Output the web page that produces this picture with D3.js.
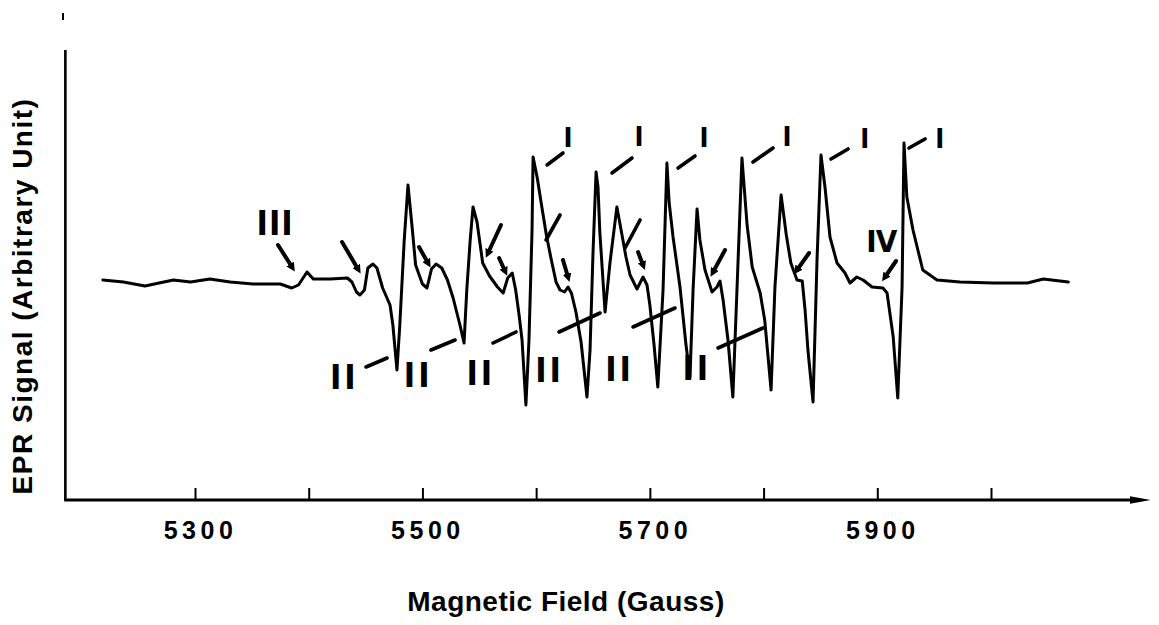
<!DOCTYPE html>
<html><head><meta charset="utf-8">
<script src="https://cdn.jsdelivr.net/npm/d3@7"></script>
<style>body{margin:0;background:#fff} svg{display:block}</style>
</head><body><svg id="c" width="1159" height="625"></svg>
<script>
// Magnetic field (Gauss) of traced spectrum points
const field = [5219,5237,5256,5281,5296,5313,5331,5351,5375,5385,5391,5398.5,5404,5419,5434,5438,5442,5445,5449,5452,
5456.5,5460,5465,5471.5,5474,5477.6,5480,5484,5487.3,5491,5494,5500,5504,5508,5512,5517,5522,5527,5533,5536.6,
5539,5542,5544.5,5548,5553,5559,5566,5571,5575,5579,5582,5585,5587.6,5591,5593.7,5596.4,5597.3,5601,5605,5609,
5613,5617.5,5621,5625,5628,5631,5635,5639.5,5644.7,5647.4,5650,5652.7,5654.4,5656,5660.6,5665,5671,5675.5,5679,5682.6,
5688.7,5694,5697.5,5700,5703.7,5707,5711.6,5715,5717,5720.4,5726.5,5731.8,5735.3,5738,5741.5,5744,5748.5,5754.7,5759,5761.7,
5764.4,5768.7,5773,5776.7,5781,5785.5,5790,5797,5801,5806.6,5810,5815.4,5820,5824,5829.4,5834,5836.5,5839,5843.5,5847,
5850.5,5854,5858.4,5864.6,5871.6,5876,5882,5887.5,5895.4,5905,5908.6,5914,5918,5921.8,5923.5,5926,5931.4,5940,5952.5,5972.8,
6002,6032,6046,6068];
// EPR signal (arbitrary units)
const signal = [1,-1,-5,1,-1,2,-1,-3,-3,-7,-4,9,2,2,3,-1,-11,-14,-9,13,
17,13,-7,-24,-44,-89,-46,41,96,53,16,-3,-7,12,17,13,1,-17,-44,-62,
-9,41,74,59,18,5,-6,-12,3,8,-9,-34,-59,-124,-59,51,124,103,74,46,
23,-1,-9,-11,-6,-12,-31,-61,-116,-69,28,109,94,49,-31,19,74,46,24,6,
-8,4,-4,-24,-64,-106,-9,118,78,44,-6,-64,-96,-9,72,41,11,-11,-6,0,
-19,-59,-116,-6,123,56,14,-12,-39,-109,-6,86,46,18,1,0,-29,-69,-121,21,
126,94,44,18,8,-2,4,1,-6,-7,-12,-56,-117,-6,138,84,51,11,1,-1,
-2,-2,2,-1];

const axisTicks = [5300,5400,5500,5600,5700,5800,5900,6000];
const tickLabels = {5300:"5300",5500:"5500",5700:"5700",5900:"5900"};
const fieldExtent = [5186, 6138];
const signalExtent = [-219, 231];

// Line-group labels (text, field, signal)
const numeralText   = ["III","II","II","II","II","II","II","I","I","I","I","I","I","IV"];
const numeralField  = [5370,5430,5495,5550,5610.5,5672,5740,5628,5690.5,5747.6,5820.6,5889,5955,5904];
const numeralSignal = [58,-96,-94,-92,-89,-88,-87,144,145,144,145,143,143,40];

// Pointer strokes: [field1, signal1, field2, signal2, hasArrowHead]
const pointers = [
 [5373.0,36,5385.3,14,1],[5429.3,39,5443.3,12,1],[5450.4,-86,5468.9,-77,0],[5497.0,34,5504.9,18,1],
 [5507.5,-69,5528.7,-59,0],[5569.1,56,5557.7,28,1],[5567.4,23,5572.6,10,1],[5562.1,-62,5582.3,-51,0],
 [5609.6,116,5623.6,128,0],[5621.0,66,5608.7,41,0],[5623.6,21,5628.0,4,1],[5620.1,-51,5656.2,-32,0],
 [5666.7,108,5684.3,123,0],[5691.4,61,5678.2,33,0],[5689.6,29,5694.0,16,1],[5685.2,-46,5722.1,-27,0],
 [5724.8,113,5739.7,125,0],[5766.1,31,5755.6,9,1],[5760.0,-67,5799.5,-47,0],[5790.7,119,5808.3,133,0],
 [5840.0,28,5829.4,11,1],[5859.3,122,5874.3,132,0],[5927.9,133,5942.0,142,0],[5916.5,20,5906.8,4,1]
];

const svg = d3.select("#c");
const x = d3.scaleLinear().domain([5300,6000]).range([195,991]);
const y = d3.scaleLinear().domain(signalExtent).range([500,50]);

const defs = svg.append("defs");
defs.append("marker").attr("id","ah").attr("viewBox","0 0 10 10")
  .attr("refX",4).attr("refY",5).attr("markerWidth",2.2).attr("markerHeight",2.2)
  .attr("orient","auto").append("path").attr("d","M0,0L10,5L0,10z").attr("fill","#000");
defs.append("marker").attr("id","axarrow").attr("viewBox","0 0 10 10")
  .attr("refX",2).attr("refY",5).attr("markerWidth",7).attr("markerHeight",3.2)
  .attr("markerUnits","strokeWidth").attr("orient","auto").attr("preserveAspectRatio","none")
  .append("path").attr("d","M0,1L10,5L0,9z").attr("fill","#000");

// small artifact above axis
svg.append("line").attr("x1",63).attr("x2",63).attr("y1",13).attr("y2",20)
  .attr("stroke","#000").attr("stroke-width",2);

// y axis line
svg.append("line").attr("x1",x(fieldExtent[0])).attr("x2",x(fieldExtent[0]))
  .attr("y1",y(signalExtent[0])+1).attr("y2",y(signalExtent[1]))
  .attr("stroke","#000").attr("stroke-width",2.6);

// x axis
const gx = svg.append("g").attr("transform",`translate(0,${y(signalExtent[0])})`)
  .call(d3.axisBottom(x).tickValues(axisTicks).tickSizeInner(-12).tickSizeOuter(0)
    .tickPadding(21).tickFormat(d => tickLabels[d] || ""));
gx.select(".domain").remove();
gx.selectAll(".tick line").attr("stroke","#000").attr("stroke-width",2);
gx.selectAll(".tick text").attr("font-family","Liberation Sans, Arial, sans-serif")
  .attr("font-weight","bold").attr("font-size",25).attr("letter-spacing","4.5px")
  .attr("dx",5).attr("fill","#000");
gx.append("line").attr("x1",x(fieldExtent[0])-1).attr("x2",x(fieldExtent[1])-14)
  .attr("y1",0).attr("y2",0).attr("stroke","#000").attr("stroke-width",3)
  .attr("marker-end","url(#axarrow)");

// spectrum
svg.append("path").datum(field.map((f,i)=>[f,signal[i]]))
  .attr("d", d3.line().x(d => x(d[0])).y(d => y(d[1])))
  .attr("fill","none").attr("stroke","#000").attr("stroke-width",3)
  .attr("stroke-linejoin","round").attr("stroke-linecap","round");

// pointers
svg.selectAll(".ptr").data(pointers).enter().append("line")
  .attr("x1",d=>x(d[0])).attr("y1",d=>y(d[1]))
  .attr("x2",d=>x(d[2])).attr("y2",d=>y(d[3]))
  .attr("stroke","#000").attr("stroke-width",d=>d[4]?4:3.6).attr("stroke-linecap","round")
  .attr("marker-end",d=>d[4]?"url(#ah)":null);

// numeral labels
const numSize = {"I":27,"II":34,"III":34,"IV":31};
const numSpacing = {"I":0,"II":3,"III":1,"IV":-1};
svg.selectAll(".num").data(numeralText).enter().append("text")
  .attr("x",(d,i)=>x(numeralField[i])).attr("y",(d,i)=>y(numeralSignal[i]))
  .attr("dy","0.36em").attr("text-anchor","middle")
  .attr("dx",d=>numSpacing[d]/2)
  .attr("font-family","DejaVu Sans Condensed, DejaVu Sans, sans-serif").attr("font-weight","bold")
  .attr("font-size",d=>numSize[d]).attr("letter-spacing",d=>numSpacing[d]+"px")
  .text(d=>d);

// axis titles
svg.append("text").attr("x",566).attr("y",611).attr("text-anchor","middle")
  .attr("font-family","Liberation Sans, Arial, sans-serif").attr("font-weight","bold")
  .attr("font-size",28).attr("letter-spacing","0.5px").text("Magnetic Field (Gauss)");
svg.append("text").attr("transform","translate(32,296) rotate(-90)").attr("text-anchor","middle")
  .attr("font-family","Liberation Sans, Arial, sans-serif").attr("font-weight","bold")
  .attr("font-size",28).attr("letter-spacing","1.5px").text("EPR Signal (Arbitrary Unit)");
</script></body></html>
